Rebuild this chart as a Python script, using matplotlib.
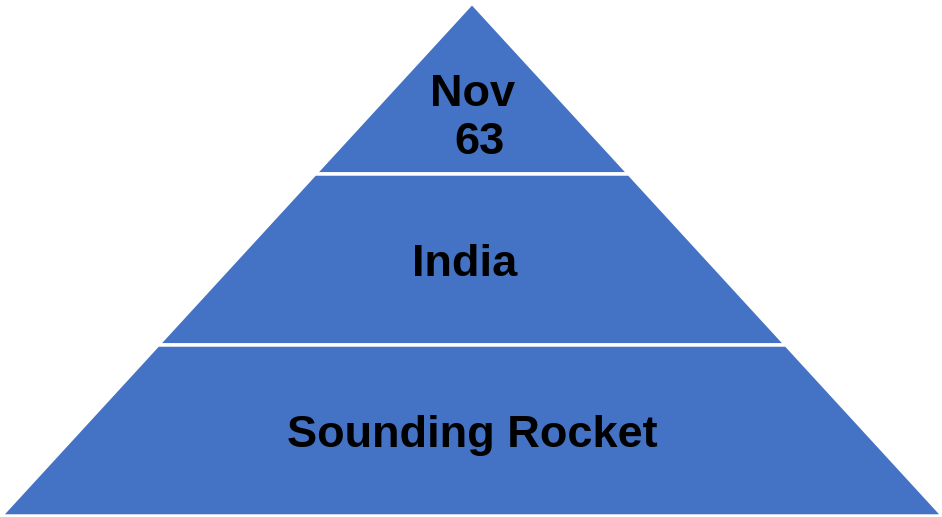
import matplotlib.pyplot as plt
from matplotlib.patches import Polygon

# pyramid layers, top to bottom
labels = ["Nov 63", "India", "Sounding Rocket"]
layer_heights = [1, 1, 1]

fill_color = "#4472C4"

fig = plt.figure(figsize=(9.42, 5.17), dpi=100)
ax = fig.add_axes([0, 0, 1, 1])
ax.set_xlim(0, 942)
ax.set_ylim(517, 0)
ax.axis("off")

# triangle outline in pixel space
apex_x, apex_y = 472, 3
base_y = 516
half_base = 471
total_h = base_y - apex_y

# text placement tweaks per layer (fraction down the layer, x shift)
text_pos = [(0.675, 7), (0.53, -7), (0.53, 0)]


def half_width(y):
    return half_base * (y - apex_y) / total_h


total = sum(layer_heights)
y_top = apex_y
for i, (label, h, (frac, dx)) in enumerate(zip(labels, layer_heights, text_pos)):
    y_bot = y_top + total_h * h / total
    pts = [
        (apex_x - half_width(y_top), y_top),
        (apex_x + half_width(y_top), y_top),
        (apex_x + half_width(y_bot), y_bot),
        (apex_x - half_width(y_bot), y_bot),
    ]
    ax.add_patch(Polygon(pts, closed=True, facecolor=fill_color,
                         edgecolor="white", linewidth=2.5, joinstyle="miter"))
    # narrow top layer wraps its text, keeping the trailing space
    if i == 0:
        label = label.replace(" ", " \n")
    y_text = y_top + (y_bot - y_top) * frac
    ax.text(apex_x + dx, y_text, label, ha="center", va="center",
            fontsize=32.5, fontweight="bold", family="Liberation Sans",
            color="black", linespacing=1.2, multialignment="center")
    y_top = y_bot

fig.savefig("out.png", dpi=100)
